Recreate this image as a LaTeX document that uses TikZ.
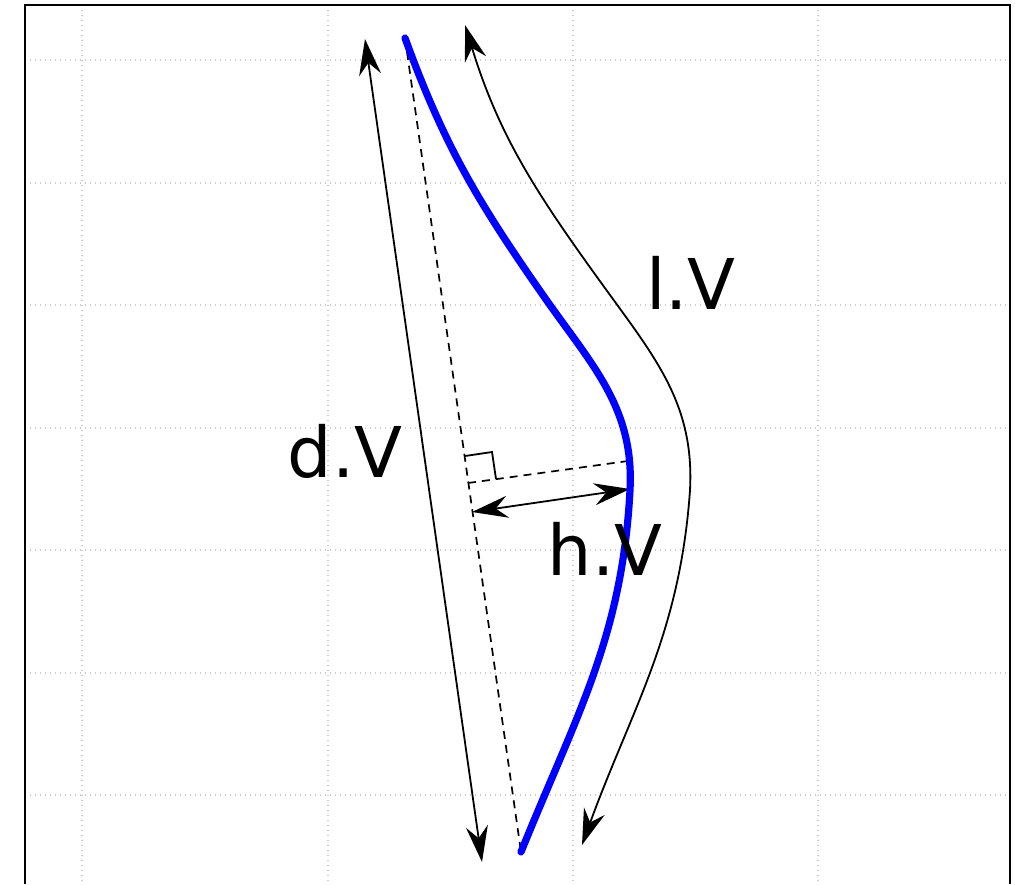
\documentclass[tikz,border=0pt]{standalone}
\usepackage{fontspec}
\setmainfont{DejaVu Sans}
\usepackage{xcolor}
\definecolor{gridgray}{HTML}{CCCCCC}
\definecolor{curveblue}{HTML}{0000FF}
\usepackage{tikz}
\usetikzlibrary{arrows.meta,calc}

\begin{document}
\begin{tikzpicture}[x=0.5pt,y=-0.5pt,
  >={Stealth[length=18pt,width=11pt,inset=6pt]},
  gridline/.style={gridgray,line width=0.7pt,dash pattern=on 0.7pt off 1.8pt},
  frameline/.style={black,line width=1pt},
  measure/.style={black,line width=0.9pt},
  chordline/.style={black,line width=0.85pt,dash pattern=on 4pt off 3pt},
  bluecurve/.style={curveblue,line width=3.6pt,line cap=round},
  dimlabel/.style={font=\fontsize{35}{40}\selectfont,anchor=base,inner sep=0pt}]
\useasboundingbox (0,0) rectangle (1015,884);
\foreach \gx in {82,328,573,818}
  \draw[gridline] (\gx,5) -- (\gx,884);
\foreach \gy in {60,183,305,428,550,673,795}
  \draw[gridline] (25,\gy) -- (1010,\gy);
\draw[frameline] (25,884) -- (25,5) -- (1010,5) -- (1010,884);

\coordinate (ctop) at (405,38);
\coordinate (cbot) at (521,852);
\coordinate (cbend) at (545,298);
\coordinate (cpeak) at (630,490);
\coordinate (dtop) at (365,39);
\coordinate (dbot) at (482,862);
\coordinate (ltop) at (465,25);
\coordinate (lbend) at (610,295);
\coordinate (lpeak) at (690,490);
\coordinate (lbot) at (582,845);
\coordinate (foot) at (468,483);
\coordinate (apex) at (628,461);
\coordinate (hfoot) at (472,512);
\coordinate (hapex) at (630,489);
\coordinate (rchord) at (465,456);
\coordinate (rcorner) at (492,452);
\coordinate (rperp) at (496,479);

\draw[chordline] (ctop) -- (cbot);
\draw[chordline] (foot) -- (apex);
\draw[measure] (rchord) -- (rcorner) -- (rperp);
\draw[measure,<->] (dtop) -- (dbot);
\draw[measure,<->] (hfoot) -- (hapex);
\draw[measure,<->] (ltop) to[out=-73,in=126] (lbend) to[out=-54,in=87] (lpeak) to[out=-94,in=70] (lbot);
\draw[bluecurve] (ctop) to[out=-70,in=125] (cbend) to[out=-55,in=87] (cpeak) to[out=-93,in=68] (cbot);

\node[dimlabel] (dlabel) at (345,477) {d.V};
\node[dimlabel] (llabel) at (691,309) {l.V};
\node[dimlabel] (hlabel) at (605,575) {h.V};
\end{tikzpicture}
\end{document}
